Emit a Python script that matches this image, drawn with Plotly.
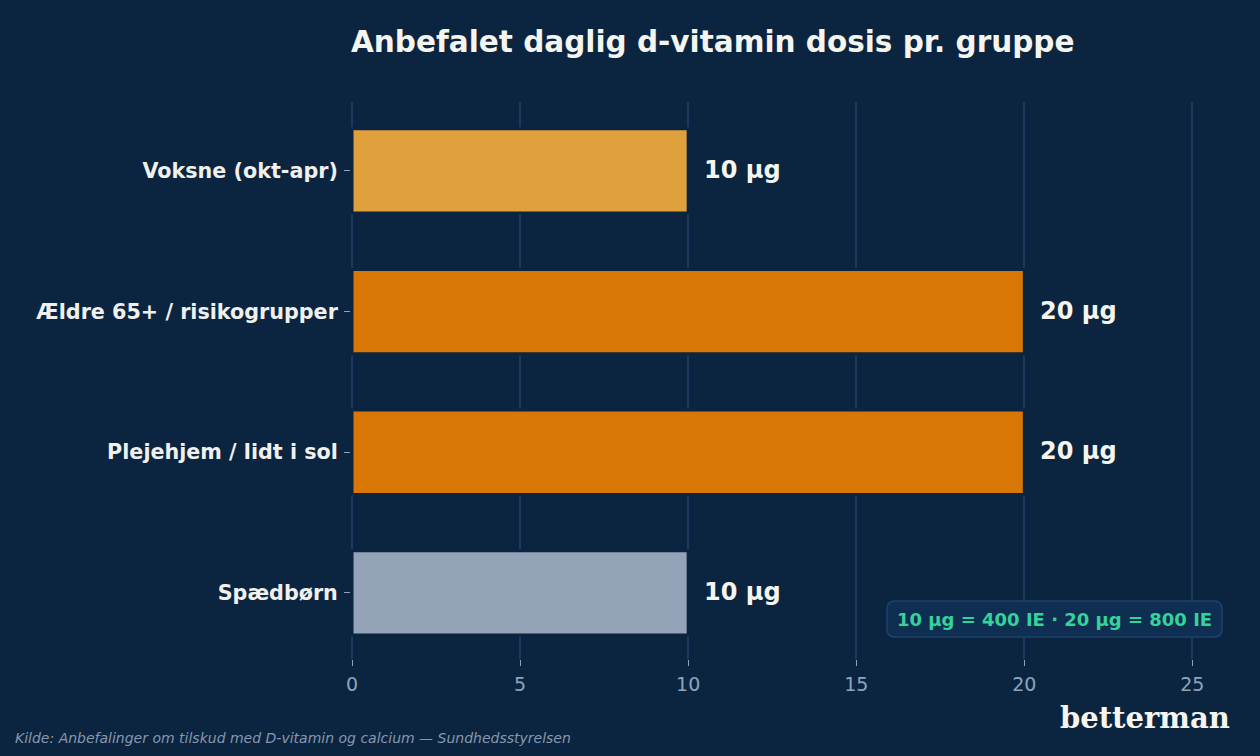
import plotly.graph_objects as go

# Data
groups = ["Voksne (okt-apr)", "Ældre 65+ / risikogrupper", "Plejehjem / lidt i sol", "Spædbørn"]
doses_ug = [10, 20, 20, 10]
value_labels = ["10 µg", "20 µg", "20 µg", "10 µg"]
bar_colors = ["#e0a03c", "#d97706", "#d97706", "#94a3b8"]
x_ticks = [0, 5, 10, 15, 20, 25]

title_text = "Anbefalet daglig d-vitamin dosis pr. gruppe"
note_text = "10 µg = 400 IE · 20 µg = 800 IE"
source_text = "Kilde: Anbefalinger om tilskud med D-vitamin og calcium — Sundhedsstyrelsen"
brand_text = "betterman"

BG = "#0b2540"
GRID = "#1d3a5e"
TICK = "#8fa3bf"
W, H = 1260, 756
ML, MR, MT, MB = 351, 34, 102, 97
pw = W - ML - MR
ph = H - MT - MB


def px_x(px):
    return (px - ML) / pw


def px_y(py):
    return (H - MB - py) / ph


fig = go.Figure()
fig.add_trace(go.Bar(
    y=groups, x=doses_ug, orientation="h", width=0.6,
    marker=dict(color=bar_colors, line=dict(color=BG, width=3)),
    hoverinfo="skip",
))

for g, v, lab in zip(groups, doses_ug, value_labels):
    fig.add_annotation(x=v, y=g, text=f"<b>{lab}</b>", showarrow=False,
                       xanchor="left", xshift=14, yshift=1,
                       font=dict(family="DejaVu Sans", size=24, color="#f5f5f0"))

# rounded note box
x0, x1 = px_x(887), px_x(1222)
y0, y1 = px_y(637), px_y(601)
rx, ry = 8 / pw, 8 / ph
path = (f"M {x0+rx},{y0} L {x1-rx},{y0} Q {x1},{y0} {x1},{y0+ry} "
        f"L {x1},{y1-ry} Q {x1},{y1} {x1-rx},{y1} L {x0+rx},{y1} "
        f"Q {x0},{y1} {x0},{y1-ry} L {x0},{y0+ry} Q {x0},{y0} {x0+rx},{y0} Z")
fig.add_shape(type="path", path=path, xref="paper", yref="paper",
              fillcolor="#0f2f52", line=dict(color="#1f426b", width=1.5), layer="above")
fig.add_annotation(x=(x0 + x1) / 2, y=px_y(619), xref="paper", yref="paper",
                   text=f"<b>{note_text}</b>", showarrow=False, xanchor="center", yanchor="middle",
                   font=dict(family="DejaVu Sans", size=18, color="#34d399"))

fig.add_annotation(x=px_x(713), y=px_y(42), xref="paper", yref="paper",
                   text=f"<b>{title_text}</b>", showarrow=False, xanchor="center", yanchor="middle",
                   font=dict(family="DejaVu Sans", size=29.5, color="#f5f5f0"))
fig.add_annotation(x=px_x(13), y=px_y(738), xref="paper", yref="paper",
                   text=f"<i>{source_text}</i>", showarrow=False, xanchor="left", yanchor="middle",
                   font=dict(family="DejaVu Sans", size=14, color="#8797b0"))
fig.add_annotation(x=px_x(1232), y=px_y(718), xref="paper", yref="paper",
                   text=f"<b>{brand_text}</b>", showarrow=False, xanchor="right", yanchor="middle",
                   font=dict(family="DejaVu Serif", size=29, color="#f8f5ef"))

fig.update_layout(
    width=W, height=H,
    margin=dict(l=ML, r=MR, t=MT, b=MB, pad=0),
    paper_bgcolor=BG, plot_bgcolor=BG,
    showlegend=False,
    xaxis=dict(range=[-0.03, 26], tickvals=x_ticks, showgrid=True, gridcolor=GRID, gridwidth=1.5,
               zeroline=False, showline=False, ticks="outside", ticklen=6, tickcolor=TICK,
               tickfont=dict(family="DejaVu Sans", size=19, color=TICK), ticklabelstandoff=2),
    yaxis=dict(categoryorder="array", categoryarray=groups, range=[3.47, -0.49],
               showgrid=False, zeroline=False, showline=False, ticks="outside", ticklen=6,
               tickcolor=TICK, ticklabelstandoff=2,
               tickfont=dict(family="DejaVu Sans", size=20.7, color="#f0f0ee", weight="bold")),
)

fig.write_html("out.html")
